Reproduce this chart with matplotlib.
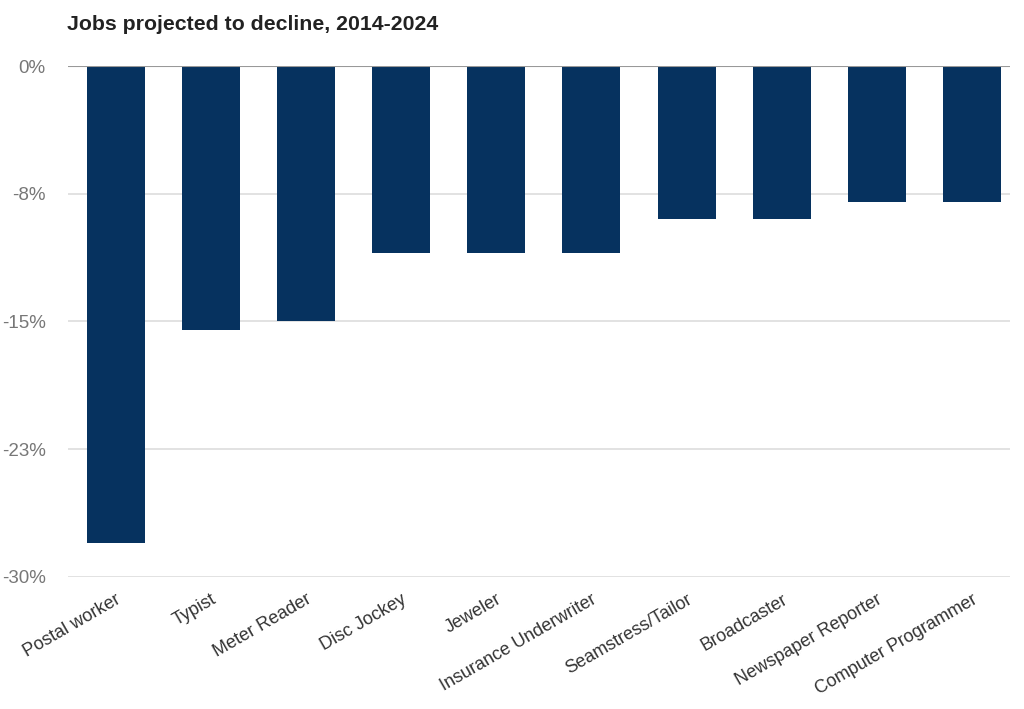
import numpy as np
import matplotlib.pyplot as plt

plt.rcParams['font.family'] = ['Liberation Sans', 'DejaVu Sans']

# data (percent change 2014-2024)
jobs = ["Postal worker", "Typist", "Meter Reader", "Disc Jockey", "Jeweler",
        "Insurance Underwriter", "Seamstress/Tailor", "Broadcaster",
        "Newspaper Reporter", "Computer Programmer"]
change = [-28, -15.5, -15, -11, -11, -11, -9, -9, -8, -8]
yticks = [0, -7.5, -15, -22.5, -30]
ytick_labels = ["0%", "-8%", "-15%", "-23%", "-30%"]

fig = plt.figure(figsize=(10.24, 7.09), dpi=100)
ax = fig.add_axes([0.0664, 0.1862, 0.92, 0.7207])

x = np.arange(len(jobs))
ax.bar(x, change, width=0.61, color="#06325f", zorder=3)

ax.set_ylim(-30, 0)
ax.set_xlim(-0.5, 9.4)
ax.set_yticks(yticks)
ax.set_yticklabels(ytick_labels, color="#777777", fontsize=13.5)
for t in yticks[1:]:
    ax.axhline(t, color="#dddddd", lw=1.2, zorder=1)
ax.axhline(0, color="#999999", lw=1.5, zorder=4)

ax.set_xticks(x)
ax.set_xticklabels(jobs, rotation=30, ha="right", rotation_mode="anchor",
                   fontsize=13, color="#333333")
ax.tick_params(axis="both", length=0)
ax.tick_params(axis="x", pad=10)
ax.tick_params(axis="y", pad=16)
for s in ax.spines.values():
    s.set_visible(False)

fig.text(0.0654, 0.966, "Jobs projected to decline, 2014-2024", fontsize=15.3,
         fontweight="bold", color="#222222", va="center", ha="left")

fig.savefig("out.png", dpi=100)
